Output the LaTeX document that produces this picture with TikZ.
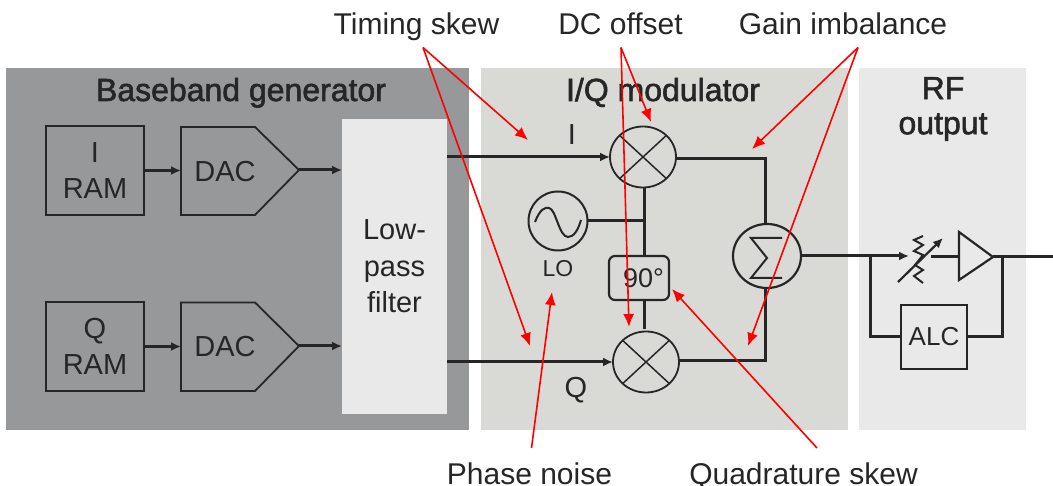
\documentclass[tikz,border=0pt]{standalone}
\usepackage{fontspec}
\setmainfont{Liberation Sans}
\newfontfamily\titlefont[FakeBold=1.8]{Liberation Sans}
\usetikzlibrary{arrows.meta,shapes.geometric}
\definecolor{ink}{HTML}{262626}
\definecolor{panelbb}{HTML}{97989A}
\definecolor{paneliq}{HTML}{D9DAD6}
\definecolor{panelrf}{HTML}{E9E9E9}
\tikzset{
  fs/.style={font=\fontsize{#1}{36.5}\selectfont},
  wire/.style={draw=ink, line width=3pt},
  feed/.style={wire, -{Latex[length=10pt,width=9pt]}},
  skew/.style={draw=red, line width=1.6pt, -{Latex[length=13pt,width=11pt]}},
  ramblock/.style={draw=ink, line width=1.8pt, minimum width=98pt, minimum height=89pt, align=center, fs=29},
  mixer/.style={draw=ink, ellipse, line width=1.8pt, minimum width=66pt, minimum height=61pt},
  caption/.style={fs=30, anchor=base},
  paneltitle/.style={font=\titlefont\fontsize{32}{35}\selectfont, align=center},
}
\begin{document}
\begin{tikzpicture}[x=1pt, y=-1pt, every node/.style={inner sep=0pt, outer sep=0pt, text=ink}]
    \useasboundingbox (0,0) rectangle (1053,486);
    \fill[panelbb] (6,68) rectangle (469,430);
    \fill[paneliq] (481,68) rectangle (848,430);
    \fill[panelrf] (859,68) rectangle (1026,430);
    \node[paneltitle, anchor=base] (bbtitle) at (241,101) {Baseband generator};
    \node[paneltitle, anchor=base] (iqtitle) at (663,101) {I/Q modulator};
    \node[paneltitle] (rftitle) at (943,109) {RF\\output};

    \node[ramblock] (iram) at (95,170.5) {I\\RAM};
    \node[ramblock] (qram) at (95,346.5) {Q\\RAM};
    \draw[draw=ink, line width=1.8pt] (181,127) -- (255,127) -- (299,170) coordinate (idac) -- (255,215) -- (181,215) -- cycle;
    \draw[draw=ink, line width=1.8pt] (181,302.5) -- (255,302.5) -- (299,346) coordinate (qdac) -- (255,391) -- (181,391) -- cycle;
    \node[fs=29, anchor=base] (idactext) at (225,182) {DAC};
    \node[fs=29, anchor=base] (qdactext) at (225,357) {DAC};
    \node[fill=panelrf, minimum width=105pt, minimum height=295pt, align=center, fs=29] (lpf) at (394.5,266.5) {Low-\\pass\\filter};
    \draw[feed] (iram.east |- 0,170.5) -- (181,170.5);
    \draw[feed] (qram.east |- 0,346.5) -- (181,346.5);
    \draw[feed] (idac) -- (342,170);
    \draw[feed] (qdac) -- (342,346);

    \node[mixer] (mixi) at (643,157) {};
    \node[mixer] (mixq) at (646,362) {};
    \draw[draw=ink, line width=1.5pt] (mixi.north west) -- (mixi.south east) (mixi.north east) -- (mixi.south west);
    \draw[draw=ink, line width=1.5pt] (mixq.north west) -- (mixq.south east) (mixq.north east) -- (mixq.south west);
    \node[fs=29, anchor=base] (ilabel) at (572,145) {I};
    \node[fs=29, anchor=base] (qlabel) at (576,398) {Q};
    \draw[feed] (447,157) -- (mixi.west);
    \draw[feed] (447,362) -- (mixq.west);

    \node[draw=ink, circle, line width=2pt, minimum size=59pt] (lo) at (558,221) {};
    \draw[ink, line width=2pt] (535,222) .. controls (540,209) and (545,207) .. (549,208) .. controls (556,209) and (559,237) .. (568,237) .. controls (574,237) and (578,230) .. (581,220);
    \node[fs=23, anchor=base] (lolabel) at (558,277) {LO};
    \node[draw=ink, rounded corners=6pt, line width=2.2pt, minimum width=60pt, minimum height=44pt, fs=27] (shift) at (639,278) {\hspace{9pt}90°};
    \coordinate (tee) at (644,221);
    \draw[wire] (644,187) -- (644,256);
    \draw[wire] (lo.east) -- (tee);
    \draw[wire] (644,300) -- (644,329);

    \node[draw=ink, ellipse, line width=2.2pt, minimum width=68pt, minimum height=64pt] (sum) at (767,256) {};
    \draw[ink, line width=2pt] (782,238) -- (751,238) -- (767,258) -- (751,278) -- (782,278);
    \draw[wire] (677,159) -- (765,159) -- (765,225);
    \draw[wire] (680,361) -- (765,361) -- (765,288);

    \node[draw=ink, line width=2.2pt, minimum width=66pt, minimum height=64pt, fs=26] (alc) at (934,337) {ALC};
    \coordinate (split) at (870,256);
    \coordinate (amptip) at (993,257);
    \coordinate (ampout) at (1002.5,257);
    \draw[feed] (sum.east) -- (909,256);
    \draw[wire] (split) -- (870,337) -- (alc.west);
    \draw[wire] (alc.east) -- (1002.5,337) -- (ampout);
    \draw[ink, line width=2pt] (923,236) -- (914,240) -- (923,245) -- (914,251) -- (923,255) -- (915,265) -- (923,270) -- (914,276) -- (923,283);
    \draw[ink, line width=2.2pt, -{Latex[length=10pt,width=9pt]}] (898,282) -- (943,238);
    \draw[wire] (931,257) -- (959,257);
    \draw[ink, line width=2.2pt] (959,232) -- (993,257) -- (959,280) -- cycle;
    \draw[wire] (amptip) -- (1053,257);

    \node[caption] (timing) at (416.5,34.5) {Timing skew};
    \node[caption] (dcoff) at (620.5,34.5) {DC offset};
    \node[caption] (gain) at (843,34.5) {Gain imbalance};
    \node[caption] (phase) at (529.5,484) {Phase noise};
    \node[caption] (quad) at (803.5,484) {Quadrature skew};
    \coordinate (timingroot) at (423,47.5);
    \coordinate (dcroot) at (621,47.5);
    \coordinate (gainroot) at (858,47.5);
    \coordinate (phaseroot) at (531.5,448);
    \coordinate (quadroot) at (817,448);
    \draw[skew] (timingroot) -- (528,140);
    \draw[skew] (timingroot) -- (530,346);
    \draw[skew] (dcroot) -- (651,122);
    \draw[skew] (dcroot) -- (629,327);
    \draw[skew] (gainroot) -- (752,149);
    \draw[skew] (gainroot) -- (748,346);
    \draw[skew] (phaseroot) -- (552,292);
    \draw[skew] (quadroot) -- (672,289);
  \end{tikzpicture}
\end{document}
